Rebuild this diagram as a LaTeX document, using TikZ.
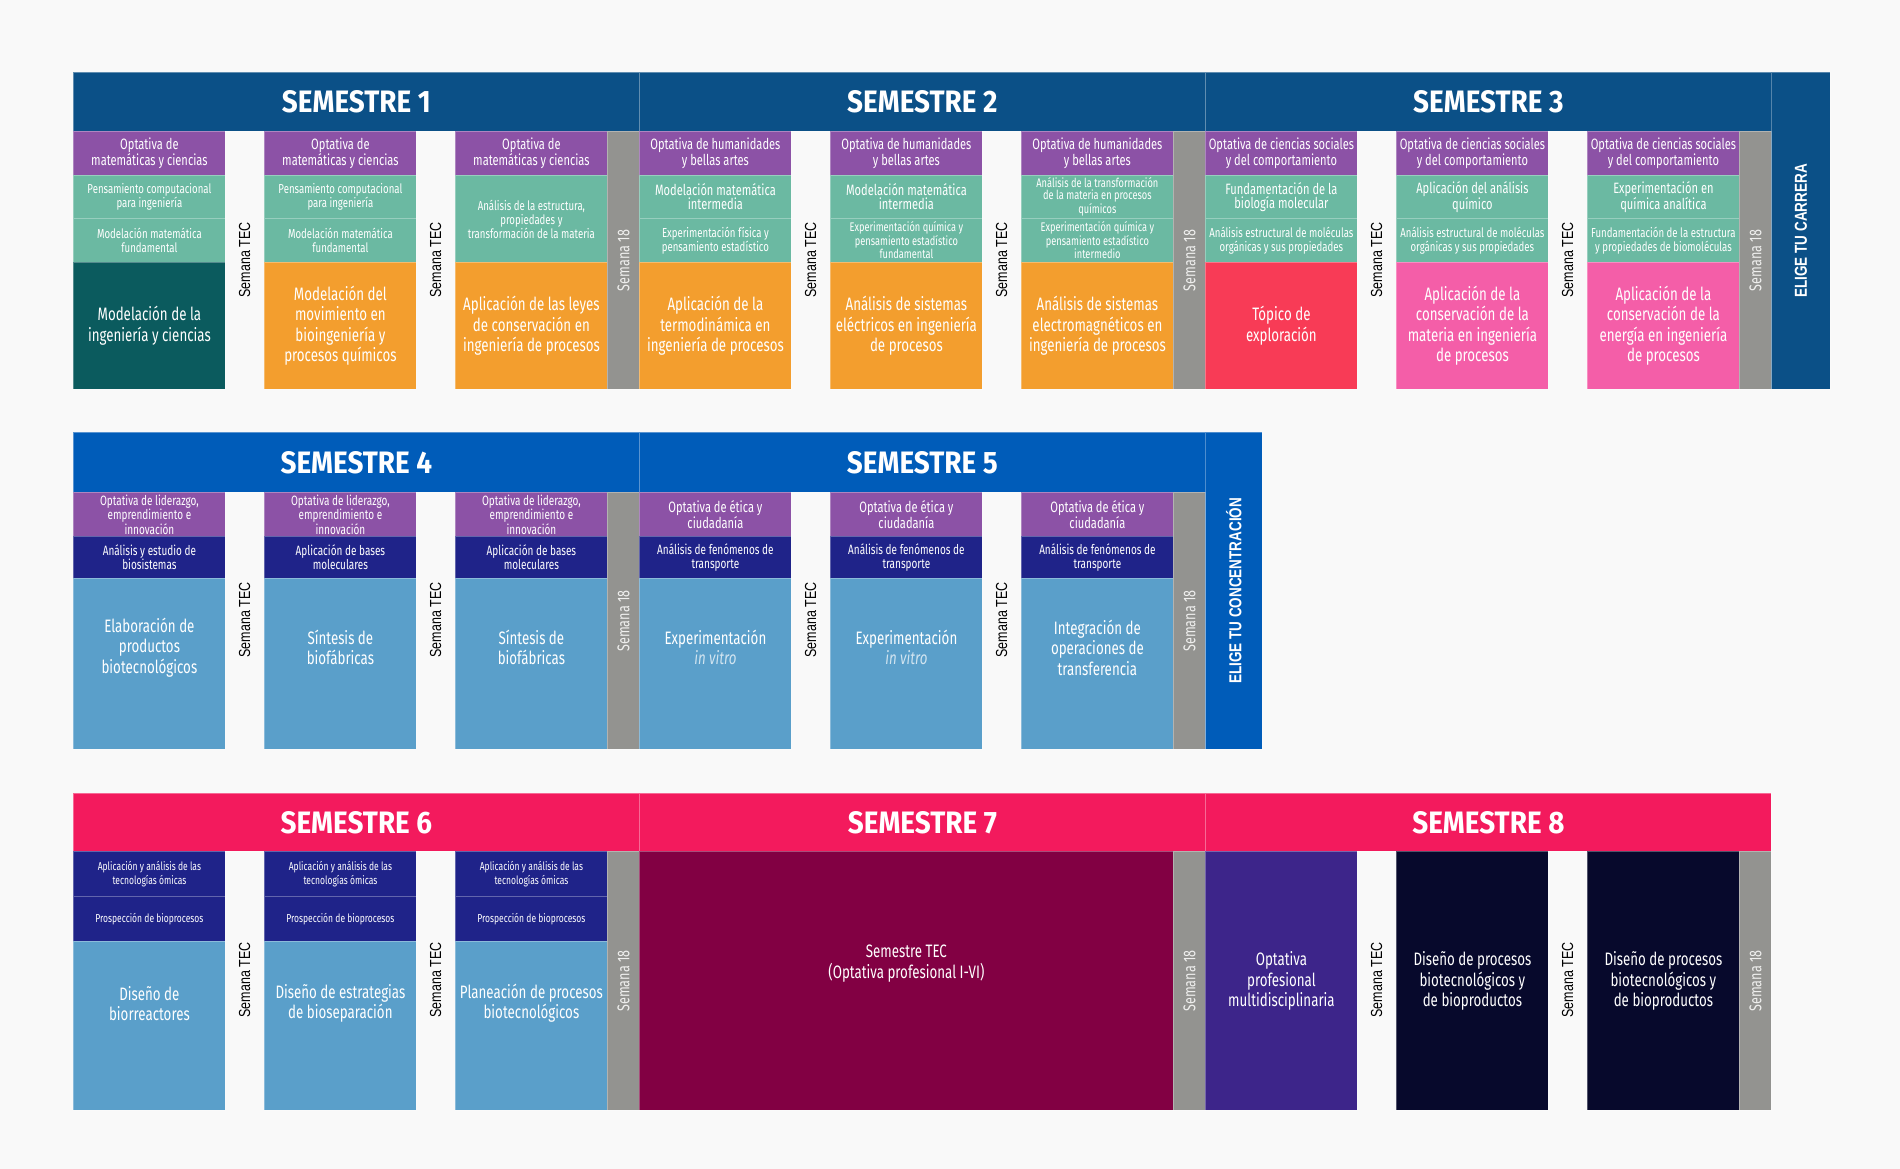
\documentclass[tikz,border=0pt]{standalone}
\usepackage{fontspec}
\setmainfont{Fira Sans}[FakeStretch=0.74]
\newfontfamily\hdfont{Fira Sans}[FakeStretch=0.9]
\newfontfamily\tecfont{Liberation Sans}[FakeStretch=0.78]
\usepackage{tikz}
\usetikzlibrary{%
  positioning
 ,calc
 ,shapes
}
\definecolor{bgc}{HTML}{F9F9F9}
\definecolor{hdrA}{HTML}{0B5087}
\definecolor{hdrB}{HTML}{005CB9}
\definecolor{hdrC}{HTML}{F31A5D}
\definecolor{purp}{HTML}{8C52A6}
\definecolor{grn}{HTML}{6BB9A2}
\definecolor{tealD}{HTML}{0B5B5E}
\definecolor{orng}{HTML}{F39E2E}
\definecolor{redT}{HTML}{F83B56}
\definecolor{pnk}{HTML}{F45EA8}
\definecolor{navyB}{HTML}{1F2389}
\definecolor{lblue}{HTML}{5A9FCA}
\definecolor{marn}{HTML}{820043}
\definecolor{indg}{HTML}{3D258A}
\definecolor{dnav}{HTML}{07092C}
\definecolor{gry}{HTML}{939390}
\tikzstyle{hdr}=[rectangle,anchor=north west,minimum width=566pt,minimum height=59pt,draw=white,draw opacity=.35,line width=.8pt,text=white,font=\hdfont\bfseries\fontsize{31}{31}\selectfont]
\tikzstyle{cell}=[rectangle,anchor=north west,minimum width=152pt,draw=white,draw opacity=.3,line width=.8pt,inner xsep=0pt,inner ysep=1pt,align=center,text=white]
\tikzstyle{wk}=[cell,fill=gry,minimum width=32pt]
\tikzstyle{fs}=[font=\fontsize{13}{14}\selectfont]
\tikzstyle{fx}=[font=\fontsize{12.5}{12}\selectfont]
\tikzstyle{fm}=[font=\fontsize{15}{14}\selectfont]
\tikzstyle{fn}=[font=\fontsize{13.5}{14.5}\selectfont]
\tikzstyle{fo}=[font=\fontsize{11.5}{14}\selectfont]
\tikzstyle{fl}=[font=\fontsize{18}{20.5}\selectfont]
\tikzstyle{txt}=[align=center,text=white,inner sep=0pt,fl]
\tikzstyle{tec}=[rotate=90,inner sep=0pt,font=\tecfont\fontsize{16}{16}\selectfont]
\tikzstyle{wkt}=[rotate=90,inner sep=0pt,text=white!85!gry,font=\fontsize{17}{17}\selectfont]
\tikzstyle{elige}=[rotate=90,inner sep=0pt,text=white,font=\tecfont\bfseries\fontsize{17.3}{17.3}\selectfont]

\begin{document}
\begin{tikzpicture}[x=1pt,y=-1pt]
  \path[use as bounding box,fill=bgc] (0,0) rectangle (1900,1169);

  % semestres 1 a 3
  \node[hdr,fill=hdrA] (sem_1) at (73,72) {SEMESTRE 1};
  \node[hdr,fill=hdrA] (sem_2) at (639,72) {SEMESTRE 2};
  \node[hdr,fill=hdrA] (sem_3) at (1205,72) {SEMESTRE 3};
  \node[cell,fill=hdrA,minimum width=59pt,minimum height=317pt] (elige_1) at (1771,72) {};
  \node[elige] (elt_1) at (elige_1.center) {ELIGE TU CARRERA};

  \node[cell,fill=purp,fm,minimum height=44pt] (opt_1a) at (73,131) {Optativa de\\matemáticas y ciencias};
  \node[cell,fill=purp,fm,minimum height=44pt] (opt_1b) at (264,131) {Optativa de\\matemáticas y ciencias};
  \node[cell,fill=purp,fm,minimum height=44pt] (opt_1c) at (455,131) {Optativa de\\matemáticas y ciencias};
  \node[cell,fill=grn,fs,minimum height=43pt] (ba_1a) at (73,175) {Pensamiento computacional\\para ingeniería};
  \node[cell,fill=grn,fs,minimum height=43pt] (ba_1b) at (264,175) {Pensamiento computacional\\para ingeniería};
  \node[cell,fill=grn,fs,minimum height=87pt] (ba_1c) at (455,175) {Análisis de la estructura,\\propiedades y\\transformación de la materia};
  \node[cell,fill=grn,fs,minimum height=44pt] (bb_1a) at (73,218) {Modelación matemática\\fundamental};
  \node[cell,fill=grn,fs,minimum height=44pt] (bb_1b) at (264,218) {Modelación matemática\\fundamental};
  \node[cell,fill=tealD,fl,minimum height=127pt] (mat_1a) at (73,262) {Modelación de la\\ingeniería y ciencias};
  \node[cell,fill=orng,fl,minimum height=127pt] (mat_1b) at (264,262) {Modelación del\\movimiento en\\bioingeniería y\\procesos químicos};
  \node[cell,fill=orng,fl,minimum height=127pt] (mat_1c) at (455,262) {Aplicación de las leyes\\de conservación en\\ingeniería de procesos};
  \node[wk,minimum height=258pt] (s18_1) at (607,131) {};

  \node[cell,fill=purp,fm,minimum height=44pt] (opt_2a) at (639,131) {Optativa de humanidades\\y bellas artes};
  \node[cell,fill=purp,fm,minimum height=44pt] (opt_2b) at (830,131) {Optativa de humanidades\\y bellas artes};
  \node[cell,fill=purp,fm,minimum height=44pt] (opt_2c) at (1021,131) {Optativa de humanidades\\y bellas artes};
  \node[cell,fill=grn,fm,minimum height=43pt] (ba_2a) at (639,175) {Modelación matemática\\intermedia};
  \node[cell,fill=grn,fm,minimum height=43pt] (ba_2b) at (830,175) {Modelación matemática\\intermedia};
  \node[cell,fill=grn,fx,minimum height=43pt] (ba_2c) at (1021,175) {Análisis de la transformación\\de la materia en procesos\\químicos};
  \node[cell,fill=grn,fs,minimum height=44pt] (bb_2a) at (639,218) {Experimentación física y\\pensamiento estadístico};
  \node[cell,fill=grn,fx,minimum height=44pt] (bb_2b) at (830,218) {Experimentación química y\\pensamiento estadístico\\fundamental};
  \node[cell,fill=grn,fx,minimum height=44pt] (bb_2c) at (1021,218) {Experimentación química y\\pensamiento estadístico\\intermedio};
  \node[cell,fill=orng,fl,minimum height=127pt] (mat_2a) at (639,262) {Aplicación de la\\termodinámica en\\ingeniería de procesos};
  \node[cell,fill=orng,fl,minimum height=127pt] (mat_2b) at (830,262) {Análisis de sistemas\\eléctricos en ingeniería\\de procesos};
  \node[cell,fill=orng,fl,minimum height=127pt] (mat_2c) at (1021,262) {Análisis de sistemas\\electromagnéticos en\\ingeniería de procesos};
  \node[wk,minimum height=258pt] (s18_2) at (1173,131) {};

  \node[cell,fill=purp,fm,minimum height=44pt] (opt_3a) at (1205,131) {Optativa de ciencias sociales\\y del comportamiento};
  \node[cell,fill=purp,fm,minimum height=44pt] (opt_3b) at (1396,131) {Optativa de ciencias sociales\\y del comportamiento};
  \node[cell,fill=purp,fm,minimum height=44pt] (opt_3c) at (1587,131) {Optativa de ciencias sociales\\y del comportamiento};
  \node[cell,fill=grn,fm,minimum height=43pt] (ba_3a) at (1205,175) {Fundamentación de la\\biología molecular};
  \node[cell,fill=grn,fm,minimum height=43pt] (ba_3b) at (1396,175) {Aplicación del análisis\\químico};
  \node[cell,fill=grn,fm,minimum height=43pt] (ba_3c) at (1587,175) {Experimentación en\\química analítica};
  \node[cell,fill=grn,fs,minimum height=44pt] (bb_3a) at (1205,218) {Análisis estructural de moléculas\\orgánicas y sus propiedades};
  \node[cell,fill=grn,fs,minimum height=44pt] (bb_3b) at (1396,218) {Análisis estructural de moléculas\\orgánicas y sus propiedades};
  \node[cell,fill=grn,fs,minimum height=44pt] (bb_3c) at (1587,218) {Fundamentación de la estructura\\y propiedades de biomoléculas};
  \node[cell,fill=redT,fl,minimum height=127pt] (mat_3a) at (1205,262) {Tópico de\\exploración};
  \node[cell,fill=pnk,fl,minimum height=127pt] (mat_3b) at (1396,262) {Aplicación de la\\conservación de la\\materia en ingeniería\\de procesos};
  \node[cell,fill=pnk,fl,minimum height=127pt] (mat_3c) at (1587,262) {Aplicación de la\\conservación de la\\energía en ingeniería\\de procesos};
  \node[wk,minimum height=258pt] (s18_3) at (1739,131) {};

  % semestres 4 y 5
  \node[hdr,fill=hdrB,minimum height=60pt] (sem_4) at (73,432) {SEMESTRE 4};
  \node[hdr,fill=hdrB,minimum height=60pt] (sem_5) at (639,432) {SEMESTRE 5};
  \node[cell,fill=hdrB,minimum width=57pt,minimum height=317pt] (elige_2) at (1205,432) {};
  \node[elige] (elt_2) at (elige_2.center) {ELIGE TU CONCENTRACIÓN};

  \node[cell,fill=purp,font=\fontsize{13.5}{12}\selectfont,minimum height=44pt] (opt_4a) at (73,492) {Optativa de liderazgo,\\emprendimiento e\\innovación};
  \node[cell,fill=purp,font=\fontsize{13.5}{12}\selectfont,minimum height=44pt] (opt_4b) at (264,492) {Optativa de liderazgo,\\emprendimiento e\\innovación};
  \node[cell,fill=purp,font=\fontsize{13.5}{12}\selectfont,minimum height=44pt] (opt_4c) at (455,492) {Optativa de liderazgo,\\emprendimiento e\\innovación};
  \node[cell,fill=navyB,fn,minimum height=42pt] (ba_4a) at (73,536) {Análisis y estudio de\\biosistemas};
  \node[cell,fill=navyB,fn,minimum height=42pt] (ba_4b) at (264,536) {Aplicación de bases\\moleculares};
  \node[cell,fill=navyB,fn,minimum height=42pt] (ba_4c) at (455,536) {Aplicación de bases\\moleculares};
  \node[cell,fill=lblue,minimum height=171pt] (mat_4a) at (73,578) {};
  \node[cell,fill=lblue,minimum height=171pt] (mat_4b) at (264,578) {};
  \node[cell,fill=lblue,minimum height=171pt] (mat_4c) at (455,578) {};
  \node[wk,minimum height=257pt] (s18_4) at (607,492) {};

  \node[cell,fill=purp,fm,minimum height=44pt] (opt_5a) at (639,492) {Optativa de ética y\\ciudadanía};
  \node[cell,fill=purp,fm,minimum height=44pt] (opt_5b) at (830,492) {Optativa de ética y\\ciudadanía};
  \node[cell,fill=purp,fm,minimum height=44pt] (opt_5c) at (1021,492) {Optativa de ética y\\ciudadanía};
  \node[cell,fill=navyB,fn,minimum height=42pt] (ba_5a) at (639,536) {Análisis de fenómenos de\\transporte};
  \node[cell,fill=navyB,fn,minimum height=42pt] (ba_5b) at (830,536) {Análisis de fenómenos de\\transporte};
  \node[cell,fill=navyB,fn,minimum height=42pt] (ba_5c) at (1021,536) {Análisis de fenómenos de\\transporte};
  \node[cell,fill=lblue,minimum height=171pt] (mat_5a) at (639,578) {};
  \node[cell,fill=lblue,minimum height=171pt] (mat_5b) at (830,578) {};
  \node[cell,fill=lblue,minimum height=171pt] (mat_5c) at (1021,578) {};
  \node[wk,minimum height=257pt] (s18_5) at (1173,492) {};

  \node[txt] (t_4a) at ([yshift=16.5pt]mat_4a.center) {Elaboración de\\productos\\biotecnológicos};
  \node[txt] (t_4b) at ([yshift=16.5pt]mat_4b.center) {Síntesis de\\biofábricas};
  \node[txt] (t_4c) at ([yshift=16.5pt]mat_4c.center) {Síntesis de\\biofábricas};
  \node[txt] (t_5a) at ([yshift=16.5pt]mat_5a.center) {Experimentación\\\textcolor{white!72!lblue}{\itshape in vitro}};
  \node[txt] (t_5b) at ([yshift=16.5pt]mat_5b.center) {Experimentación\\\textcolor{white!72!lblue}{\itshape in vitro}};
  \node[txt] (t_5c) at ([yshift=16.5pt]mat_5c.center) {Integración de\\operaciones de\\transferencia};

  % semestres 6 a 8
  \node[hdr,fill=hdrC,minimum height=58pt] (sem_6) at (73,793) {SEMESTRE 6};
  \node[hdr,fill=hdrC,minimum height=58pt] (sem_7) at (639,793) {SEMESTRE 7};
  \node[hdr,fill=hdrC,minimum height=58pt] (sem_8) at (1205,793) {SEMESTRE 8};

  \node[cell,fill=navyB,fo,minimum height=45pt] (opt_6a) at (73,851) {Aplicación y análisis de las\\tecnologías ómicas};
  \node[cell,fill=navyB,fo,minimum height=45pt] (opt_6b) at (264,851) {Aplicación y análisis de las\\tecnologías ómicas};
  \node[cell,fill=navyB,fo,minimum height=45pt] (opt_6c) at (455,851) {Aplicación y análisis de las\\tecnologías ómicas};
  \node[cell,fill=navyB,fo,minimum height=45pt] (ba_6a) at (73,896) {Prospección de bioprocesos};
  \node[cell,fill=navyB,fo,minimum height=45pt] (ba_6b) at (264,896) {Prospección de bioprocesos};
  \node[cell,fill=navyB,fo,minimum height=45pt] (ba_6c) at (455,896) {Prospección de bioprocesos};
  \node[cell,fill=lblue,minimum height=169pt] (mat_6a) at (73,941) {};
  \node[cell,fill=lblue,minimum height=169pt] (mat_6b) at (264,941) {};
  \node[cell,fill=lblue,minimum height=169pt] (mat_6c) at (455,941) {};
  \node[wk,minimum height=259pt] (s18_6) at (607,851) {};
  \node[txt] (t_6a) at ([yshift=22.5pt]mat_6a.center) {Diseño de\\biorreactores};
  \node[txt] (t_6b) at ([yshift=22.5pt]mat_6b.center) {Diseño de estrategias\\de bioseparación};
  \node[txt] (t_6c) at ([yshift=22.5pt]mat_6c.center) {Planeación de procesos\\biotecnológicos};

  \node[cell,fill=marn,minimum width=534pt,minimum height=259pt] (mat_7) at (639,851) {};
  \node[txt] (t_7) at ([yshift=17.5pt]mat_7.center) {Semestre TEC\\(Optativa profesional I-VI)};
  \node[wk,minimum height=259pt] (s18_7) at (1173,851) {};

  \node[cell,fill=indg,fl,minimum height=259pt] (mat_8a) at (1205,851) {Optativa\\profesional\\multidisciplinaria};
  \node[cell,fill=dnav,fl,minimum height=259pt] (mat_8b) at (1396,851) {Diseño de procesos\\biotecnológicos y\\de bioproductos};
  \node[cell,fill=dnav,fl,minimum height=259pt] (mat_8c) at (1587,851) {Diseño de procesos\\biotecnológicos y\\de bioproductos};
  \node[wk,minimum height=259pt] (s18_8) at (1739,851) {};

  % semana TEC y semana 18
  \node[tec] (tec_1a) at (244.5,260) {Semana TEC};
  \node[tec] (tec_1b) at (435.5,260) {Semana TEC};
  \node[tec] (tec_2a) at (810.5,260) {Semana TEC};
  \node[tec] (tec_2b) at (1001.5,260) {Semana TEC};
  \node[tec] (tec_3a) at (1376.5,260) {Semana TEC};
  \node[tec] (tec_3b) at (1567.5,260) {Semana TEC};
  \node[tec] (tec_4a) at (244.5,620) {Semana TEC};
  \node[tec] (tec_4b) at (435.5,620) {Semana TEC};
  \node[tec] (tec_5a) at (810.5,620) {Semana TEC};
  \node[tec] (tec_5b) at (1001.5,620) {Semana TEC};
  \node[tec] (tec_6a) at (244.5,980) {Semana TEC};
  \node[tec] (tec_6b) at (435.5,980) {Semana TEC};
  \node[tec] (tec_8a) at (1376.5,980) {Semana TEC};
  \node[tec] (tec_8b) at (1567.5,980) {Semana TEC};
  \node[wkt] (w_1) at (s18_1.center) {Semana 18};
  \node[wkt] (w_2) at (s18_2.center) {Semana 18};
  \node[wkt] (w_3) at (s18_3.center) {Semana 18};
  \node[wkt] (w_4) at (s18_4.center) {Semana 18};
  \node[wkt] (w_5) at (s18_5.center) {Semana 18};
  \node[wkt] (w_6) at (s18_6.center) {Semana 18};
  \node[wkt] (w_7) at (s18_7.center) {Semana 18};
  \node[wkt] (w_8) at (s18_8.center) {Semana 18};
\end{tikzpicture}
\end{document}
